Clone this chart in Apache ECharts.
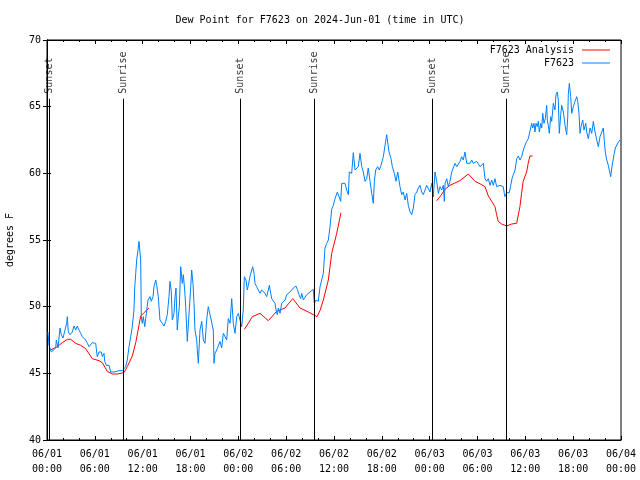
<!DOCTYPE html>
<html>
<head>
<meta charset="utf-8">
<script src="https://cdn.jsdelivr.net/npm/echarts@6/dist/echarts.min.js"></script>
<style>html,body{margin:0;padding:0;background:#fff}#c{width:640px;height:480px}</style>
</head>
<body>
<div id="c"></div>
<script>
// hours since 2024-06-01 00:00 UTC
const tickLabels = ["06/01\n00:00","06/01\n06:00","06/01\n12:00","06/01\n18:00","06/02\n00:00","06/02\n06:00","06/02\n12:00","06/02\n18:00","06/03\n00:00","06/03\n06:00","06/03\n12:00","06/03\n18:00","06/04\n00:00"];

const sunHours = [0.29, 9.57, 24.25, 33.53, 48.33, 57.57];
const sunLabels = ["Sunset","Sunrise","Sunset","Sunrise","Sunset","Sunrise"];

const redHours = [0.44,1.29,1.92,2.55,2.97,3.6,4.23,4.85,5.68,6.52,6.94,7.56,8.19,8.82,9.66,10.07,10.7,11.13,11.54,11.75,12.17,12.79,
  18.0,
  24.75,25.25,25.75,26.72,27.76,28.81,29.85,30.82,31.74,32.78,33.87,34.24,34.66,35.29,35.71,36.34,36.88,
  42.0,
  48.88,49.3,49.92,50.55,51.8,52.85,53.69,54.53,54.94,55.36,55.78,56.19,56.4,56.6,57.03,57.66,58.28,58.91,59.32,59.53,59.73,60.16,60.36,60.57,60.91];
const redValues = [46.75,47.0,47.3,47.55,47.55,47.25,47.1,46.85,46.1,45.95,45.8,45.15,44.95,44.95,45.05,45.5,46.3,47.3,48.6,49.3,49.55,49.9,
  null,
  48.3,48.75,49.25,49.5,48.95,49.65,49.9,50.6,49.9,49.6,49.25,49.7,50.5,52.0,54.0,55.5,57.05,
  null,
  57.95,58.25,58.8,59.1,59.45,59.95,59.4,59.15,59.0,58.3,57.9,57.5,56.9,56.4,56.2,56.05,56.2,56.25,57.5,58.5,59.4,60.1,60.75,61.3,61.3];

const blueHours = [0.125,0.25,0.54,0.79,1.09,1.17,1.38,1.63,1.79,2.01,2.26,2.47,2.55,2.67,2.89,3.17,3.39,3.6,3.8,4.01,4.23,4.43,4.64,4.85,5.06,5.27,5.48,5.68,6.11,6.23,6.31,6.52,6.81,6.94,7.15,7.24,7.44,7.78,7.99,8.19,8.4,8.62,9.03,9.45,9.66,9.87,10.07,10.29,10.5,10.7,10.91,11.0,11.13,11.25,11.42,11.54,11.67,11.75,11.83,11.95,12.08,12.26,12.38,12.58,12.67,12.92,13.08,13.3,13.42,13.64,13.76,13.96,14.17,14.46,14.68,14.89,15.09,15.3,15.43,15.59,15.72,15.93,16.06,16.18,16.34,16.47,16.6,16.77,16.97,17.1,17.27,17.4,17.6,17.85,18.03,18.15,18.31,18.44,18.56,18.78,18.85,18.98,19.19,19.41,19.61,19.82,20.03,20.23,20.45,20.66,20.86,20.95,21.07,21.29,21.49,21.7,21.91,22.12,22.33,22.54,22.74,22.96,23.17,23.37,23.58,23.8,24.0,24.21,24.42,24.62,24.75,24.96,25.13,25.25,25.46,25.68,25.8,25.97,26.09,26.3,26.51,26.72,26.93,27.13,27.35,27.56,27.76,27.89,28.06,28.19,28.39,28.6,28.73,28.89,29.01,29.23,29.44,29.64,29.86,30.07,30.27,30.48,30.7,30.9,31.23,31.4,31.61,31.82,31.95,32.15,32.36,32.58,32.78,32.99,33.2,33.4,33.53,33.74,34.03,34.25,34.46,34.66,34.87,35.09,35.29,35.5,35.71,35.91,36.13,36.42,36.67,36.84,36.97,37.38,37.59,37.8,37.92,38.22,38.42,38.64,38.85,39.05,39.26,39.48,39.68,39.89,40.1,40.3,40.52,40.73,40.93,41.06,41.23,41.48,41.68,41.9,42.19,42.4,42.61,42.74,42.9,43.15,43.32,43.57,43.78,43.99,44.28,44.49,44.69,44.91,45.12,45.32,45.54,45.75,45.95,46.16,46.38,46.58,46.79,47.0,47.2,47.42,47.63,47.83,48.04,48.26,48.46,48.67,48.88,49.09,49.3,49.51,49.71,49.84,49.93,50.14,50.34,50.55,50.77,50.97,51.18,51.4,51.6,51.81,52.02,52.22,52.43,52.65,52.85,53.06,53.27,53.48,53.69,53.9,54.1,54.32,54.53,54.73,54.94,55.15,55.36,55.57,55.78,55.98,56.19,56.4,56.6,56.82,57.03,57.23,57.36,57.45,57.66,57.99,58.17,58.33,58.49,58.71,58.92,59.12,59.33,59.55,59.75,59.96,60.17,60.37,60.59,60.8,60.92,61.09,61.21,61.34,61.5,61.63,61.76,61.93,62.06,62.18,62.34,62.51,62.68,62.76,62.88,63.01,63.18,63.31,63.51,63.72,63.85,64.01,64.14,64.26,64.44,64.56,64.77,64.98,65.19,65.32,65.39,65.52,65.69,65.82,66.02,66.23,66.45,66.57,66.73,66.86,66.99,67.2,67.36,67.58,67.7,67.9,68.12,68.33,68.53,68.74,68.96,69.16,69.37,69.58,69.78,69.91,70.03,70.21,70.41,70.53,70.71,70.84,70.96,71.12,71.29,71.54,71.72,71.88];
const blueValues = [48.1,47.1,46.6,46.75,46.9,47.5,46.9,48.4,47.9,47.65,48.25,48.75,49.25,48.1,47.9,48.1,48.55,48.25,48.55,48.25,48.0,47.75,47.9,47.5,47.25,47.0,47.1,47.3,47.25,46.6,46.25,46.6,46.6,46.25,46.5,45.9,45.6,45.6,45.1,45.0,45.1,45.25,45.2,45.2,45.25,45.5,46.0,47.0,47.75,48.5,49.75,51.4,52.5,53.5,54.25,54.9,55.0,53.5,49.25,48.75,49.25,48.5,49.1,49.0,50.5,50.75,50.4,50.75,51.5,52.0,51.6,50.75,49.0,48.75,48.55,48.9,49.4,50.75,51.9,51.1,49.0,49.5,50.75,51.4,48.25,49.25,50.0,53.0,51.75,52.4,51.25,50.0,47.4,47.4,51.5,52.75,51.75,50.25,48.25,47.5,46.8,45.75,48.25,48.9,47.5,47.25,49.0,50.0,49.4,49.25,48.25,45.75,46.5,46.75,46.75,47.4,46.9,48.0,47.9,47.5,49.1,48.75,50.6,48.75,48.0,49.25,49.5,49.5,48.5,49.75,52.25,52.0,51.25,51.6,52.25,52.4,53.0,52.5,51.75,51.5,51.25,51.0,51.25,51.1,51.0,50.75,50.75,51.6,51.0,50.6,50.5,50.25,49.75,49.4,49.9,49.5,50.25,50.25,50.5,50.9,51.0,51.1,51.25,51.4,51.55,51.3,50.9,50.6,51.0,50.5,50.6,50.9,51.0,51.1,51.25,51.3,50.25,50.5,50.4,51.5,52.0,52.5,54.4,54.75,55.0,56.0,57.3,57.6,58.1,58.6,58.5,57.9,59.25,59.25,58.75,58.4,60.1,60.0,61.55,60.25,60.1,60.5,61.5,60.5,60.1,59.4,59.6,60.4,59.4,58.5,57.75,59.4,60.25,60.5,60.25,60.6,61.25,62.1,62.9,63.0,61.6,61.1,60.5,60.0,59.4,60.1,59.0,58.4,58.6,58.0,58.5,57.6,57.1,56.9,57.4,58.4,58.6,58.9,59.1,58.6,58.4,58.75,59.1,59.0,58.6,59.25,58.25,60.1,59.4,58.5,59.0,58.75,59.1,57.9,59.25,59.6,59.0,59.4,60.1,60.25,60.75,60.5,60.6,60.9,61.25,61.0,61.6,60.75,60.9,60.75,61.0,60.75,60.6,60.9,61.0,60.5,60.5,60.75,59.6,59.4,59.6,59.1,59.5,59.1,59.6,59.0,59.1,59.1,59.25,59.0,58.5,58.25,58.55,58.55,59.1,59.6,59.9,60.25,61.1,61.3,61.0,61.25,61.75,62.1,62.4,62.6,62.6,63.75,63.4,63.75,63.1,63.75,63.5,63.9,63.1,63.75,63.4,64.5,63.75,64.1,65.1,64.0,63.6,63.0,64.25,63.9,65.25,64.75,65.9,66.1,65.5,63.0,64.4,65.1,64.6,63.6,62.9,64.25,65.9,66.75,65.75,64.5,65.0,65.4,65.75,65.4,64.5,63.0,63.5,64.0,63.25,63.75,63.1,62.6,63.4,63.0,63.9,63.1,62.5,62.0,62.75,62.9,63.4,62.4,61.6,61.0,60.6,60.25,59.75,60.4,60.25,61.4,61.9,61.9,62.4,62.5];

const FONT = 'DejaVu Sans Mono';
const redData = redHours.map((h, i) => [h, redValues[i] === null ? '-' : redValues[i]]);
const blueData = blueHours.map((h, i) => [h, blueValues[i]]);
const sunTop = 65.6;
const sunData = sunHours.map((h, i) => ({ name: sunLabels[i], value: [h, sunTop] }));
const sunLines = sunHours.map(h => [{ coord: [h, 40] }, { coord: [h, sunTop] }]);

const axisCommon = {
  type: 'value',
  axisLine: { show: true, lineStyle: { color: '#000', width: 1 } },
  splitLine: { show: false },
  axisTick: { show: true, inside: true, length: 4, lineStyle: { color: '#000' } }
};

const chart = echarts.init(document.getElementById('c'), null, { renderer: 'canvas' });
chart.setOption({
  animation: false,
  backgroundColor: '#fff',
  textStyle: { fontFamily: FONT },
  title: {
    text: 'Dew Point for F7623 on 2024-Jun-01 (time in UTC)',
    left: 'center', top: 10,
    textStyle: { fontFamily: FONT, fontSize: 10, fontWeight: 'normal', color: '#000' }
  },
  legend: {
    orient: 'vertical', right: 25, top: 39, align: 'right',
    icon: 'rect', itemWidth: 28, itemHeight: 1, itemGap: 1,
    data: ['F7623 Analysis', 'F7623'],
    textStyle: { fontFamily: FONT, fontSize: 10, color: '#000', padding: [0, 3, 0, 0], lineHeight: 12 }
  },
  grid: { left: 47, right: 19, top: 40, bottom: 40, show: true, borderColor: '#000', borderWidth: 1, outerBoundsMode: 'none', containLabel: false },
  xAxis: [
    Object.assign({}, axisCommon, {
      min: 0, max: 72, interval: 6, position: 'bottom',
      minorTick: { show: true, splitNumber: 3, length: 2, lineStyle: { color: '#000' } },
      axisLabel: {
        color: '#000', fontFamily: FONT, fontSize: 10, lineHeight: 15, margin: 7,
        formatter: v => tickLabels[Math.round(v / 6)]
      }
    }),
    Object.assign({}, axisCommon, {
      min: 0, max: 72, interval: 6, position: 'top',
      minorTick: { show: true, splitNumber: 3, length: 2, lineStyle: { color: '#000' } },
      axisLabel: { show: false }
    })
  ],
  yAxis: [
    Object.assign({}, axisCommon, {
      min: 40, max: 70, interval: 5, position: 'left',
      name: 'degrees F', nameLocation: 'middle', nameRotate: 90, nameGap: 32,
      nameTextStyle: { fontFamily: FONT, fontSize: 10, color: '#000' },
      axisLabel: { color: '#000', fontFamily: FONT, fontSize: 10, margin: 6 }
    }),
    Object.assign({}, axisCommon, {
      min: 40, max: 70, interval: 5, position: 'right',
      axisLabel: { show: false }
    })
  ],
  series: [
    {
      name: 'sun', type: 'scatter', data: sunData, symbolSize: 0, silent: true,
      label: {
        show: true, position: 'top', rotate: 90, align: 'left', verticalAlign: 'middle',
        distance: 5, formatter: '{b}', fontFamily: FONT, fontSize: 10, color: '#000'
      },
      markLine: {
        silent: true, symbol: 'none', animation: false,
        label: { show: false },
        lineStyle: { color: '#000', width: 1, type: 'solid' },
        data: sunLines
      }
    },
    {
      name: 'F7623 Analysis', type: 'line', data: redData, symbol: 'none',
      lineStyle: { color: '#ff0000', width: 1 }, itemStyle: { color: '#ff0000' }
    },
    {
      name: 'F7623', type: 'line', data: blueData, symbol: 'none',
      lineStyle: { color: '#0080ff', width: 1 }, itemStyle: { color: '#0080ff' }
    }
  ]
});
</script>
</body>
</html>
